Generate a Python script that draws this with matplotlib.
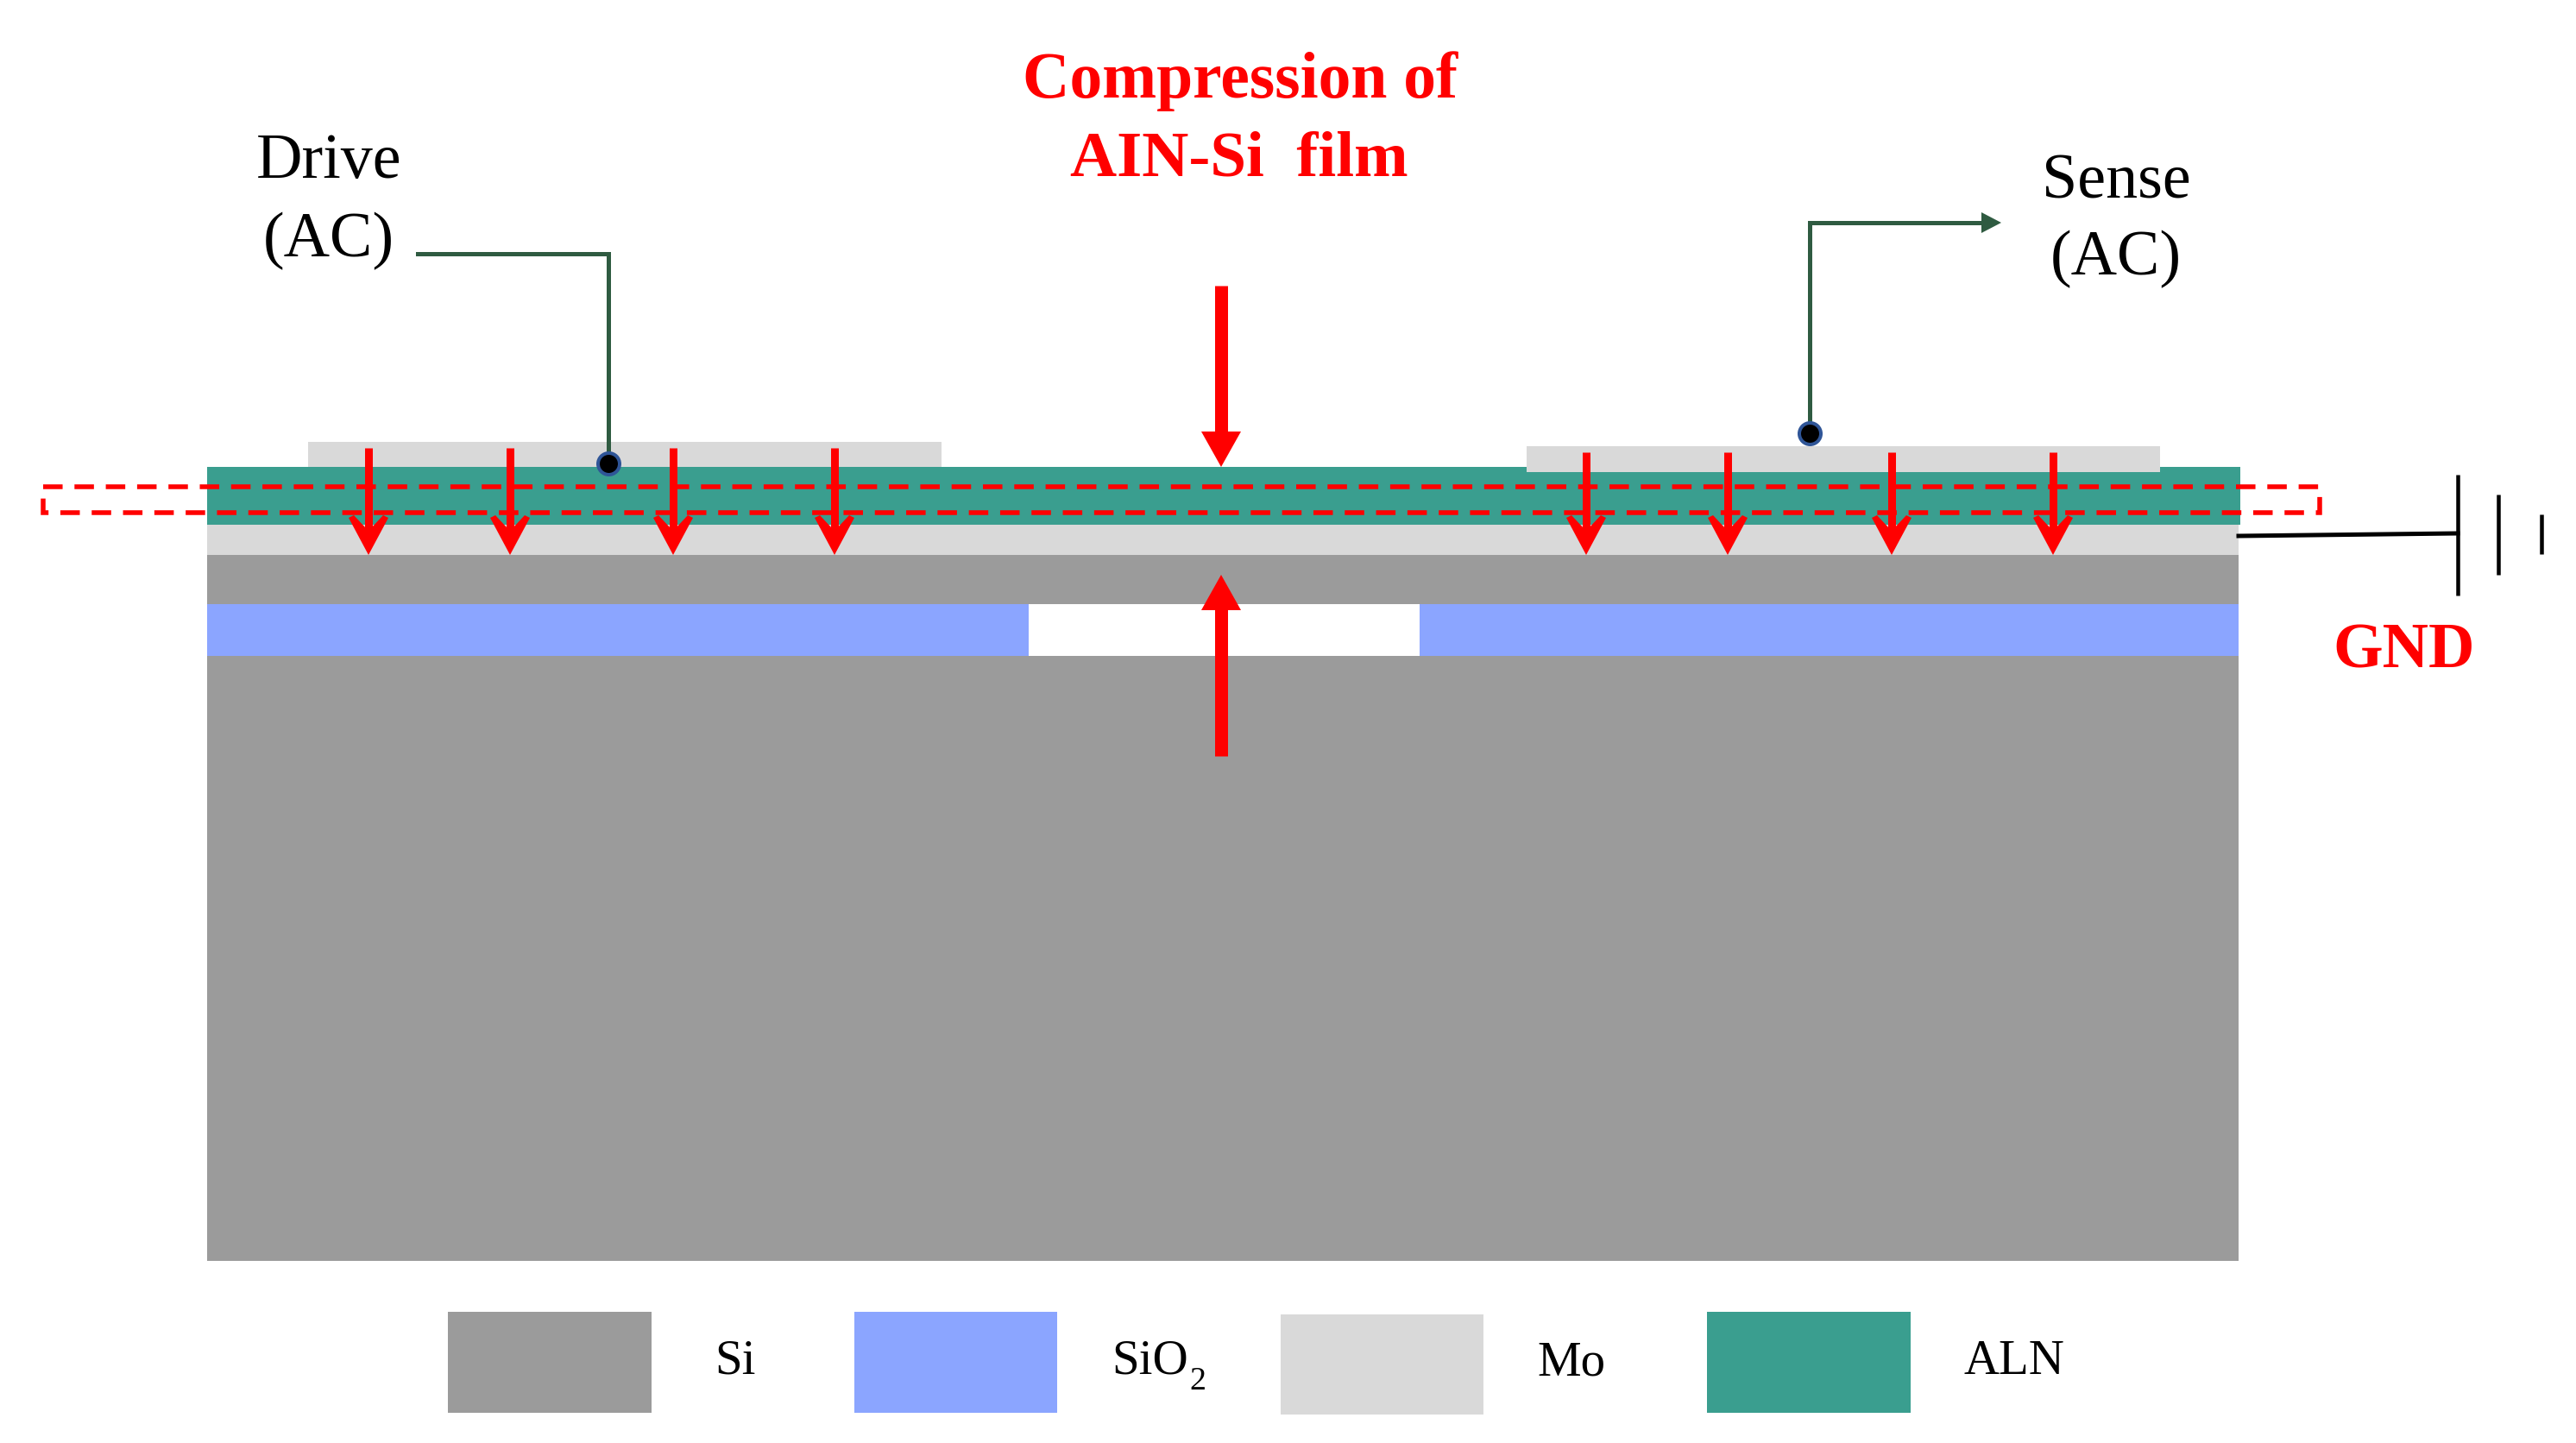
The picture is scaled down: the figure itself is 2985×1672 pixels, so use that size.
# -*- coding: utf-8 -*-
"""Cross-section of the AlN-on-Si resonator stack with drive/sense wiring."""
import matplotlib
matplotlib.use("Agg")
import matplotlib.pyplot as plt
from matplotlib.patches import Rectangle, Polygon

plt.rcParams["font.family"] = ["Liberation Serif", "DejaVu Serif"]

W, H, DPI = 2985, 1672, 100
PX = 72.0 / DPI   # one image pixel in points

SI = "#9B9B9B"
SIO2 = "#8BA5FF"
MO = "#D9D9D9"
ALN = "#3A9E8F"
RED = "#FF0000"
WIRE = "#2F5B41"

# stack layers: colour, x0, x1, top, bottom (image pixels)
LAYER_COLORS = [SI, SI, SIO2, SIO2, MO, ALN, MO, MO]
LAYER_X0 = [240, 240, 240, 1645, 240, 240, 357, 1769]
LAYER_X1 = [2594, 2594, 1192, 2594, 2594, 2596, 1091, 2503]
LAYER_TOP = [643, 760, 700, 700, 608, 541, 512, 517]
LAYER_BOT = [700, 1461, 760, 760, 643, 608, 541, 547]

ARROWS_LEFT = [427, 591, 780, 967]
ARROWS_RIGHT = [1838, 2002, 2192, 2379]

LEGEND_NAMES = ["Si", "SiO", "Mo", "ALN"]
LEGEND_COLORS = [SI, SIO2, MO, ALN]
LEGEND_X0 = [519, 990, 1484, 1978]
LEGEND_X1 = [755, 1225, 1719, 2214]
LEGEND_TOP = [1520, 1520, 1523, 1520]
LEGEND_BOT = [1637, 1637, 1639, 1637]
LEGEND_TEXT_X = [828, 1288, 1781, 2276]
LEGEND_TEXT_Y = [1592, 1592, 1594, 1592]

BATTERY_X = [2848, 2895, 2945]
BATTERY_TOP = [550, 573, 596]
BATTERY_BOT = [690, 666, 642]

fig = plt.figure(figsize=(W / DPI, H / DPI), dpi=DPI)
ax = fig.add_axes([0, 0, 1, 1])
ax.set_xlim(0, W)
ax.set_ylim(H, 0)
ax.axis("off")


def label(x, y, s, size, color="black", weight="normal", ha="center"):
    ax.text(x, y, s, fontsize=size * PX, color=color, fontweight=weight,
            ha=ha, va="baseline", zorder=10)


for c, x0, x1, t, b in zip(LAYER_COLORS, LAYER_X0, LAYER_X1, LAYER_TOP, LAYER_BOT):
    ax.add_patch(Rectangle((x0, t), x1 - x0, b - t, facecolor=c, edgecolor="none", zorder=2))

# dashed box around the film
ax.add_patch(Rectangle((50, 564), 2638, 30, fill=False, edgecolor=RED,
                       linewidth=5.5 * PX, linestyle=(0, (4.1, 2.5)), zorder=5))

# small stress arrows through the electrodes
for xs, top in ((ARROWS_LEFT, 519), (ARROWS_RIGHT, 524)):
    for x in xs:
        ax.plot([x, x], [top, 625], color=RED, lw=9 * PX, solid_capstyle="butt", zorder=6)
        ax.add_patch(Polygon([(x, 643), (x + 23, 600), (x + 17, 597), (x + 3, 612),
                              (x - 3, 612), (x - 17, 597), (x - 23, 600)],
                             color=RED, lw=0, zorder=6))

# big compression arrows
ax.plot([1415, 1415], [331, 505], color=RED, lw=15 * PX, solid_capstyle="butt", zorder=6)
ax.add_patch(Polygon([(1392, 500), (1438, 500), (1415, 541)], color=RED, lw=0, zorder=6))
ax.plot([1415, 1415], [876, 700], color=RED, lw=15 * PX, solid_capstyle="butt", zorder=6)
ax.add_patch(Polygon([(1392, 707), (1438, 707), (1415, 666)], color=RED, lw=0, zorder=6))

# drive and sense wiring
ax.plot([484, 705, 705], [294, 294, 537], color=WIRE, lw=5 * PX, zorder=7,
        solid_joinstyle="miter")
ax.plot([2097, 2097, 2300], [502, 258, 258], color=WIRE, lw=5 * PX, zorder=7,
        solid_joinstyle="miter")
ax.add_patch(Polygon([(2296, 246), (2296, 270), (2319, 258)], color=WIRE, lw=0, zorder=7))
ax.plot([705, 2097], [537, 502], linestyle="none", marker="o", ms=25 * PX,
        mfc="black", mec="#2F5597", mew=4 * PX, zorder=8)

# ground symbol
ax.plot([2594, 2848], [621, 618], color="black", lw=5 * PX, zorder=4)
for x, t, b in zip(BATTERY_X, BATTERY_TOP, BATTERY_BOT):
    ax.plot([x, x], [t, b], color="black", lw=4.5 * PX, solid_capstyle="butt", zorder=4)

label(381, 206, "Drive", 74)
label(381, 297, "(AC)", 74)
label(2452, 229, "Sense", 74)
label(2452, 318, "(AC)", 74)
label(1437, 113, "Compression of", 75.5, RED, "bold")
label(1436, 203, "AIN-Si  film", 75, RED, "bold")
label(2786, 774, "GND", 74, RED, "bold")

for name, c, x0, x1, t, b, tx, ty in zip(LEGEND_NAMES, LEGEND_COLORS, LEGEND_X0, LEGEND_X1,
                                         LEGEND_TOP, LEGEND_BOT, LEGEND_TEXT_X, LEGEND_TEXT_Y):
    ax.add_patch(Rectangle((x0, t), x1 - x0, b - t, facecolor=c, edgecolor="none"))
    label(tx, ty, name, 57, ha="left")
label(1378, 1610, "2", 38, ha="left")

fig.savefig("out.png", dpi=DPI, facecolor="white")
